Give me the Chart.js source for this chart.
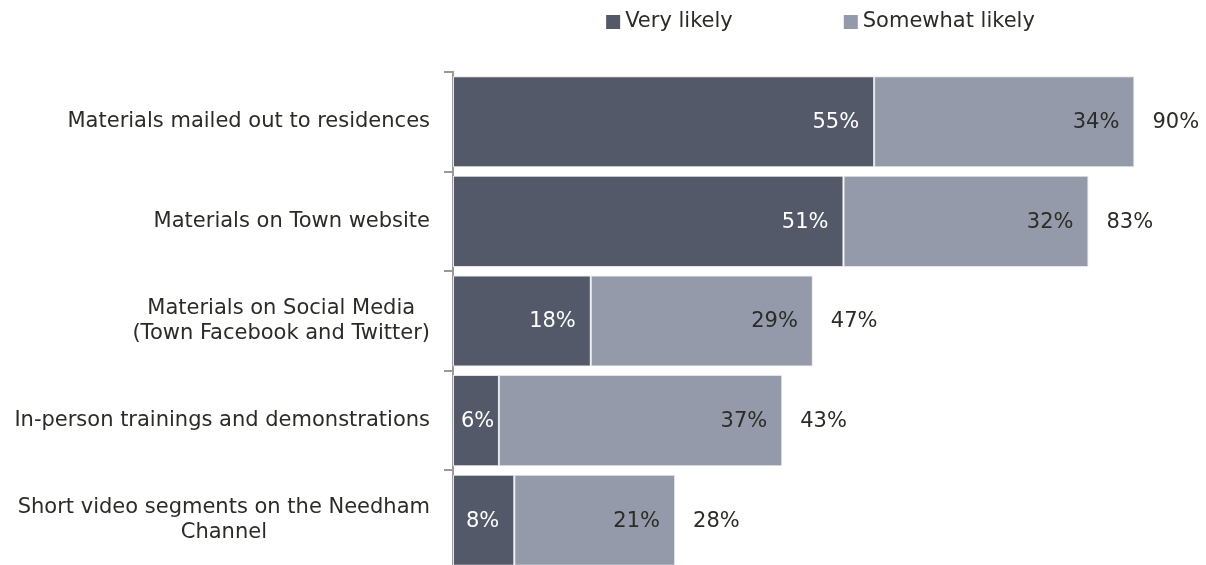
<!DOCTYPE html>
<html>
<head>
<meta charset="utf-8">
<script src="https://cdn.jsdelivr.net/npm/chart.js@4.4.1/dist/chart.umd.min.js"></script>
<style>
  html, body { margin: 0; padding: 0; background: #fff; overflow: hidden; }
  #wrap { width: 1206px; height: 570px; }
</style>
</head>
<body>
<div id="wrap"><canvas id="chart" width="1206" height="570"></canvas></div>
<script>
// Survey: how likely to use each information channel
const categories = [
    ['Materials mailed out to residences'],
    ['Materials on Town website'],
    ['Materials on Social Media', '(Town Facebook and Twitter)'],
    ['In-person trainings and demonstrations'],
    ['Short video segments on the Needham', 'Channel']
];
const veryLikely = [55, 51, 18, 6, 8];
const somewhatLikely = [34, 32, 29, 37, 21];
const totals = [90, 83, 47, 43, 28];
const seriesNames = ['Very likely', 'Somewhat likely'];

const FONT = "'DejaVu Sans', sans-serif";
const FONT_SIZE = 21;
const TEXT_COLOR = '#2c2b27';
const DARK = '#545969';
const LIGHT = '#959aaa';

// category labels: each block centred on itself, block right-aligned to the axis
const categoryLabels = {
    id: 'categoryLabels',
    afterDraw(chart) {
        const ctx = chart.ctx;
        const yScale = chart.scales.y;
        const right = chart.chartArea.left - 23;
        const lineH = 25;
        ctx.save();
        ctx.font = FONT_SIZE + 'px ' + FONT;
        ctx.fillStyle = TEXT_COLOR;
        ctx.textAlign = 'center';
        ctx.textBaseline = 'middle';
        categories.forEach((lines, i) => {
            const maxW = Math.max(...lines.map(l => ctx.measureText(l).width));
            const cx = right - maxW / 2;
            const cy = yScale.getPixelForValue(i);
            const y0 = cy - (lines.length - 1) * lineH / 2;
            lines.forEach((l, j) => ctx.fillText(l, cx, y0 + j * lineH));
        });
        ctx.restore();
    }
};

// value labels inside each segment, totals after the bar
const valueLabels = {
    id: 'valueLabels',
    afterDatasetsDraw(chart) {
        const ctx = chart.ctx;
        ctx.save();
        ctx.font = FONT_SIZE + 'px ' + FONT;
        ctx.textBaseline = 'middle';
        ctx.textAlign = 'left';
        chart.data.datasets.forEach((ds, di) => {
            const meta = chart.getDatasetMeta(di);
            meta.data.forEach((bar, i) => {
                const txt = ds.data[i] + '%';
                const w = ctx.measureText(txt).width;
                const x = Math.max(bar.x - 15 - w, bar.base + 8);
                ctx.fillStyle = di === 0 ? '#ffffff' : TEXT_COLOR;
                ctx.fillText(txt, x, bar.y + 1);
            });
        });
        const last = chart.getDatasetMeta(chart.data.datasets.length - 1);
        ctx.fillStyle = TEXT_COLOR;
        last.data.forEach((bar, i) => {
            ctx.fillText(totals[i] + '%', bar.x + 18, bar.y + 1);
        });
        ctx.restore();
    }
};

// simple legend over the plot area
const topLegend = {
    id: 'topLegend',
    afterDraw(chart) {
        const ctx = chart.ctx;
        const area = chart.chartArea;
        const box = 14, gap = 5, spacing = 111;
        ctx.save();
        ctx.font = FONT_SIZE + 'px ' + FONT;
        ctx.textBaseline = 'middle';
        ctx.textAlign = 'left';
        const items = chart.data.datasets.map(ds => ({
            label: ds.label,
            color: ds.backgroundColor,
            w: box + gap + ctx.measureText(ds.label).width
        }));
        const total = items.reduce((s, it) => s + it.w, 0) + spacing * (items.length - 1);
        let x = (area.left + area.right) / 2 - total / 2;
        const y = 22;
        items.forEach(it => {
            ctx.fillStyle = it.color;
            ctx.fillRect(x, y - 7, box, box);
            ctx.fillStyle = TEXT_COLOR;
            ctx.fillText(it.label, x + box + gap, y);
            x += it.w + spacing;
        });
        ctx.restore();
    }
};

new Chart(document.getElementById('chart'), {
    type: 'bar',
    data: {
        labels: categories,
        datasets: [{
            label: seriesNames[0],
            data: veryLikely,
            backgroundColor: DARK,
            borderColor: '#e4e5e9',
            borderWidth: 1,
            borderSkipped: false
        }, {
            label: seriesNames[1],
            data: somewhatLikely,
            backgroundColor: LIGHT,
            borderColor: '#e4e5e9',
            borderWidth: 1,
            borderSkipped: false
        }]
    },
    options: {
        indexAxis: 'y',
        responsive: false,
        animation: false,
        events: [],
        layout: { padding: { top: 72, right: 18, bottom: 0, left: 0 } },
        datasets: {
            bar: { categoryPercentage: 1.0, barPercentage: 0.915 }
        },
        scales: {
            x: {
                stacked: true,
                min: 0,
                max: 96,
                display: false
            },
            y: {
                stacked: true,
                afterFit(scale) { scale.width = 453; },
                border: { display: true, color: '#9a9a9a', width: 2 },
                grid: {
                    offset: true,
                    drawOnChartArea: false,
                    drawTicks: true,
                    tickLength: 9,
                    color: '#9a9a9a',
                    lineWidth: 2
                },
                ticks: { display: false }
            }
        },
        plugins: {
            legend: { display: false },
            tooltip: { enabled: false }
        }
    },
    plugins: [categoryLabels, valueLabels, topLegend]
});
</script>
</body>
</html>
